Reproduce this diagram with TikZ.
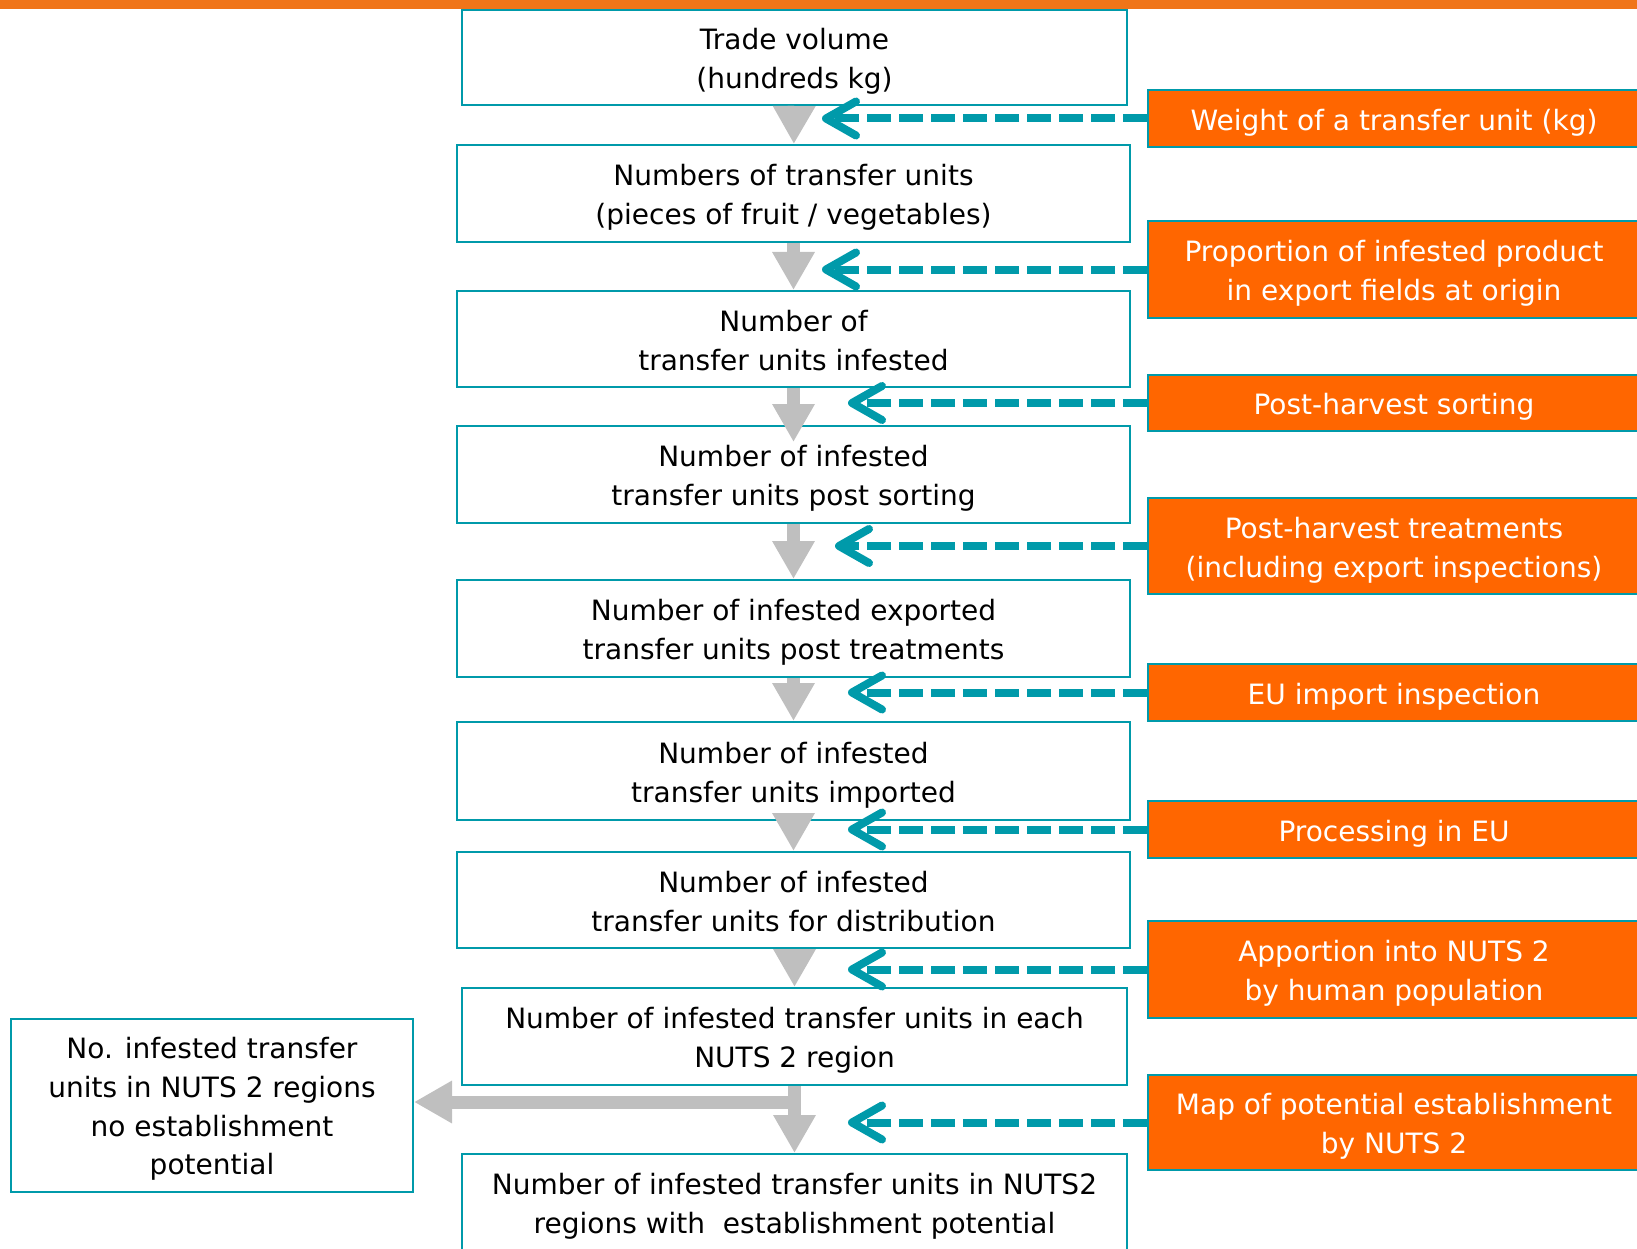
\documentclass[tikz,border=0pt]{standalone}
\usepackage{fontspec}
\setmainfont{DejaVu Sans}
\usetikzlibrary{arrows.meta,calc}

\definecolor{efsateal}{RGB}{0,154,170}
\definecolor{efsaorange}{RGB}{255,102,0}
\definecolor{barorange}{RGB}{240,117,25}
\definecolor{arrowgray}{RGB}{191,191,191}

\begin{document}
\begin{tikzpicture}[x=1pt,y=-1pt,
	flowbox/.style={draw=efsateal, line width=2pt, fill=white, align=center, inner sep=0pt, font=\fontsize{28}{38.6}\selectfont, text depth=0pt, text height=62pt},
	oneline/.style={text height=23.4pt},
	fourlines/.style={text height=139.2pt},
	inputbox/.style={flowbox, fill=efsaorange, text=white, minimum width=492pt},
	stepflow/.style={draw=arrowgray, line width=13pt, -{Triangle[length=38pt,width=40pt]}},
	feed/.style={draw=efsateal, line width=8pt, dash pattern=on 24pt off 8pt, -{Straight Barb[length=30pt,width=34pt,line cap=round,line join=round]}}]
	\clip (0,0) rectangle (1637,1249);
	\fill[barorange] (0,0) rectangle (1637,9);
	% main chain
	\node[flowbox, minimum width=665pt, minimum height=95pt] (trade) at (794.5,57.5) {Trade volume\\(hundreds kg)};
	\node[flowbox, minimum width=673pt, minimum height=97pt] (units) at (793.5,193.5) {Numbers of transfer units\\(pieces of fruit / vegetables)};
	\node[flowbox, minimum width=673pt, minimum height=96pt] (infest) at (793.5,339) {Number of\\transfer units infested};
	\node[flowbox, minimum width=673pt, minimum height=97pt] (sorted) at (793.5,474.5) {Number of infested\\transfer units post sorting};
	\node[flowbox, minimum width=673pt, minimum height=97pt] (treated) at (793.5,628.5) {Number of infested exported\\transfer units post treatments};
	\node[flowbox, minimum width=673pt, minimum height=98pt] (imported) at (793.5,771) {Number of infested\\transfer units imported};
	\node[flowbox, minimum width=673pt, minimum height=96pt] (distrib) at (793.5,900) {Number of infested\\transfer units for distribution};
	\node[flowbox, minimum width=665pt, minimum height=97pt] (nuts) at (794.5,1036.5) {Number of infested transfer units in each\\NUTS 2 region};
	\node[flowbox, minimum width=665pt, minimum height=96pt] (estab) at (794.5,1202) {Number of infested transfer units in NUTS2\\regions with \ establishment potential};
	\node[flowbox, fourlines, minimum width=402pt, minimum height=173pt] (noest) at (212,1105) {No. infested transfer\\units in NUTS 2 regions\\no establishment\\potential};
	% inputs
	\node[inputbox, oneline, minimum height=57pt] (weight) at (1394,118.5) {Weight of a transfer unit (kg)};
	\node[inputbox, minimum height=97pt] (prop) at (1394,269.5) {Proportion of infested product\\in export fields at origin};
	\node[inputbox, oneline, minimum height=56pt] (sort) at (1394,403) {Post-harvest sorting};
	\node[inputbox, minimum height=96pt] (treat) at (1394,546) {Post-harvest treatments\\(including export inspections)};
	\node[inputbox, oneline, minimum height=57pt] (inspect) at (1394,692.5) {EU import inspection};
	\node[inputbox, oneline, minimum height=57pt] (process) at (1394,829.5) {Processing in EU};
	\node[inputbox, minimum height=97pt] (apport) at (1394,969.5) {Apportion into NUTS 2\\by human population};
	\node[inputbox, minimum height=95pt] (map) at (1394,1122.5) {Map of potential establishment\\by NUTS 2};
	% flow
	\draw[stepflow] (trade) -- (units);
	\draw[stepflow] (units) -- (infest);
	\draw[stepflow] (infest) -- ($(sorted.north)+(0,17)$);
	\draw[stepflow] (sorted) -- (treated);
	\draw[stepflow] (treated) -- (imported);
	\draw[stepflow] (imported) -- (distrib);
	\draw[stepflow] (distrib.south -| nuts.south) -- (nuts);
	\draw[stepflow] (nuts) -- (estab);
	\coordinate (split) at ($(nuts.south)+(6.5,16)$);
	\draw[stepflow] (split) -- (split -| noest.east);
	% feeds
	\coordinate (tipa) at (822,0);
	\coordinate (tipb) at (835,0);
	\coordinate (tipc) at (848,0);
	\draw[feed] (weight.west) -- (weight.west -| tipa);
	\draw[feed] (prop.west) -- (prop.west -| tipa);
	\draw[feed] (sort.west) -- (sort.west -| tipc);
	\draw[feed] (treat.west) -- (treat.west -| tipb);
	\draw[feed] (inspect.west) -- (inspect.west -| tipc);
	\draw[feed] (process.west) -- (process.west -| tipc);
	\draw[feed] (apport.west) -- (apport.west -| tipc);
	\draw[feed] (map.west) -- (map.west -| tipc);
\end{tikzpicture}
\end{document}
